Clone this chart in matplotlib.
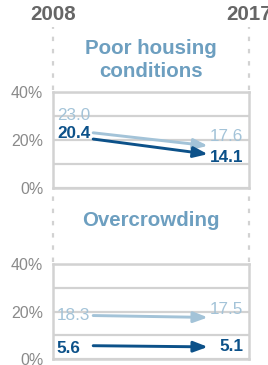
import matplotlib.pyplot as plt

plt.rcParams['font.family'] = ['Liberation Sans', 'DejaVu Sans']

years = ['2008', '2017']
panels = ['Poor housing\nconditions', 'Overcrowding']
# 每个面板: 浅色系列, 深色系列 (百分比)
light_start = [23.0, 18.3]
light_end = [17.6, 17.5]
dark_start = [20.4, 5.6]
dark_end = [14.1, 5.1]

# 标签微调 (避免重叠), 单位: 百分点
light_lab_off = [(7.0, 4.0), (0.0, 3.5)]
dark_lab_off = [(2.2, -1.6), (-1.0, 0.0)]

LIGHT = '#a3c3d8'
DARK = '#0c5189'
TITLE = '#6d9fc0'
GRID = '#d2d2d2'
TICK = '#8a8a8a'

fig = plt.figure(figsize=(2.68, 3.65), dpi=100)
W, H = 268, 365
boxes = [(53, 188, 96), (53, 359, 95)]  # 左, 0%的像素y, 高度

for k in range(2):
    left, y0, h = boxes[k]
    ax = fig.add_axes([left / W, (H - y0) / H, 196 / W, h / H])
    ax.set_xlim(0, 1)
    ax.set_ylim(0, 40)
    ax.set_yticks([0, 20, 40])
    ax.set_yticklabels(['0%', '20%', '40%'])
    ax.set_yticks([10, 30], minor=True)
    ax.set_xticks([])
    ax.tick_params(axis='y', which='both', length=0, pad=7,
                   labelsize=11.5, labelcolor=TICK)
    ax.grid(axis='y', which='both', color=GRID, lw=1.6)
    for s in ax.spines.values():
        s.set_color(GRID)
        s.set_linewidth(1.8)
    ax.set_axisbelow(True)

    # 箭头
    for ys, ye, c in [(light_start[k], light_end[k], LIGHT),
                      (dark_start[k], dark_end[k], DARK)]:
        ax.annotate('', xy=(0.79, ye), xytext=(0.205, ys),
                    arrowprops=dict(arrowstyle='-|>,head_length=0.85,head_width=0.32',
                                    color=c, lw=2.1, shrinkA=0, shrinkB=0))

    # 数值标签
    lo0, lo1 = light_lab_off[k]
    do0, do1 = dark_lab_off[k]
    ax.text(0.02, light_start[k] + lo0, f'{light_start[k]:.1f}', color=LIGHT,
            fontsize=12.3, va='center', ha='left')
    ax.text(0.97, light_end[k] + lo1, f'{light_end[k]:.1f}', color=LIGHT,
            fontsize=12.3, va='center', ha='right')
    ax.text(0.02, dark_start[k] + do0, f'{dark_start[k]:.1f}', color=DARK,
            fontsize=12.3, fontweight='bold', va='center', ha='left')
    ax.text(0.97, dark_end[k] + do1, f'{dark_end[k]:.1f}', color=DARK,
            fontsize=12.3, fontweight='bold', va='center', ha='right')

    # 虚线
    top = 67 if k == 0 else 71
    for x in [0, 1]:
        ax.plot([x, x], [40.8, top], color=GRID, lw=1.6, ls=(0, (2, 3.5)),
                clip_on=False)

    # 标题
    ty = 53.3 if k == 0 else 58.3
    ax.text(0.5, ty, panels[k], color=TITLE, fontsize=14.8, fontweight='bold',
            ha='center', va='center', linespacing=1.25)

    if k == 0:
        for x, yr in zip([0, 1], years):
            ax.text(x, 72.5, yr, color='#666666', fontsize=14.8,
                    fontweight='bold', ha='center', va='center')

fig.savefig('out.png', dpi=100)
